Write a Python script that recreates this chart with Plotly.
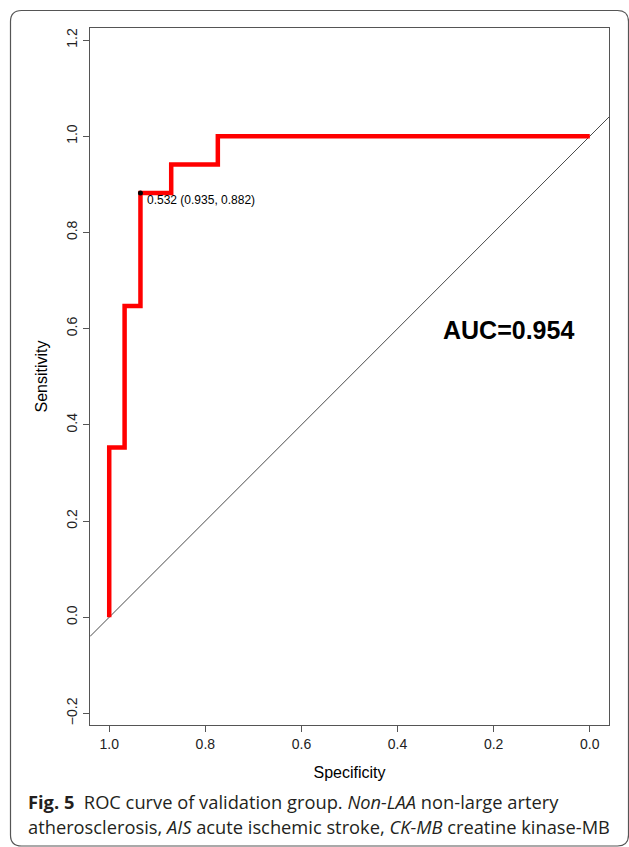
import plotly.graph_objects as go

# ROC data (specificity, sensitivity) at the step corners
specificity = [1.0, 1.0, 0.968, 0.935, 0.871, 0.774, 0.0]
sensitivity = [0.0, 0.353, 0.647, 0.882, 0.941, 1.0, 1.0]

best_threshold = 0.532
best_spec = 0.935
best_sens = 0.882
auc_value = 0.954

x_ticks = [1.0, 0.8, 0.6, 0.4, 0.2, 0.0]
y_ticks = [-0.2, 0.0, 0.2, 0.4, 0.6, 0.8, 1.0, 1.2]
x_range = [1.04, -0.04]
y_range = [-0.224, 1.225]

W, H = 629, 847
ML, MR, MT, MB = 90, 20, 28, 122
PW, PH = W - ML - MR, H - MT - MB


def px(xp):
    return (xp - ML) / PW


def py(yp):
    return (H - MB - yp) / PH


fig = go.Figure()

# chance diagonal: sensitivity = 1 - specificity across the full axis range
diag_x = list(x_range)
diag_y = [1 - v for v in diag_x]
fig.add_trace(go.Scatter(x=diag_x, y=diag_y, mode="lines",
                         line=dict(color="#4a4a4a", width=1),
                         hoverinfo="skip", showlegend=False))

fig.add_trace(go.Scatter(x=specificity, y=sensitivity, mode="lines",
                         line=dict(color="#ff0000", width=4.5, shape="hv"),
                         showlegend=False))

fig.add_trace(go.Scatter(x=[best_spec], y=[best_sens], mode="markers",
                         marker=dict(color="black", size=5),
                         showlegend=False))

fig.add_annotation(x=best_spec, y=best_sens, xref="x", yref="y",
                   text=f"{best_threshold:.3f} ({best_spec:.3f}, {best_sens:.3f})",
                   showarrow=False, xanchor="left", yanchor="middle",
                   xshift=5, yshift=-7,
                   font=dict(family="Liberation Sans", size=12, color="black"))

fig.add_annotation(x=0.17, y=0.597, xref="x", yref="y",
                   text=f"<b>AUC={auc_value:.3f}</b>", showarrow=False,
                   font=dict(family="Liberation Sans", size=25, color="black"))

axis_common = dict(showline=True, linecolor="#555555", linewidth=1, mirror=True,
                   ticks="outside", ticklen=6, tickcolor="#555555", tickwidth=1,
                   showgrid=False, zeroline=False,
                   tickfont=dict(family="Liberation Sans", size=14, color="#222222"))

fig.update_xaxes(range=x_range, tickvals=x_ticks,
                 ticktext=[f"{v:.1f}" for v in x_ticks],
                 title=dict(text="Specificity", standoff=16,
                            font=dict(family="Liberation Sans", size=16, color="black")),
                 **axis_common)
fig.update_yaxes(range=y_range, tickvals=y_ticks,
                 ticktext=[f"{v:.1f}".replace("-", "\u2212") for v in y_ticks],
                 tickangle=-90,
                 title=dict(text="Sensitivity", standoff=12,
                            font=dict(family="Liberation Sans", size=16, color="black")),
                 **axis_common)

# rounded figure frame
x0, x1, y0, y1, r = 10.5, 628.5, 10.5, 846, 11
path = (f"M {px(x0 + r)},{py(y0)} L {px(x1 - r)},{py(y0)} "
        f"Q {px(x1)},{py(y0)} {px(x1)},{py(y0 + r)} "
        f"L {px(x1)},{py(y1 - r)} Q {px(x1)},{py(y1)} {px(x1 - r)},{py(y1)} "
        f"L {px(x0 + r)},{py(y1)} Q {px(x0)},{py(y1)} {px(x0)},{py(y1 - r)} "
        f"L {px(x0)},{py(y0 + r)} Q {px(x0)},{py(y0)} {px(x0 + r)},{py(y0)} Z")
fig.add_shape(type="path", path=path, xref="paper", yref="paper",
              line=dict(color="#555555", width=1.2), layer="below")

caption_font = dict(family="Open Sans", size=18.3, color="#231f20")
fig.add_annotation(x=px(26), y=py(801), xref="paper", yref="paper",
                   text="<b>Fig. 5</b>  ROC curve of validation group. <i>Non-LAA</i> non-large artery",
                   showarrow=False, xanchor="left", yanchor="middle", font=caption_font)
fig.add_annotation(x=px(26), y=py(827), xref="paper", yref="paper",
                   text="atherosclerosis, <i>AIS</i> acute ischemic stroke, <i>CK-MB</i> creatine kinase-MB",
                   showarrow=False, xanchor="left", yanchor="middle", font=caption_font)

fig.update_layout(width=W, height=H, autosize=False,
                  margin=dict(l=ML, r=MR, t=MT, b=MB),
                  paper_bgcolor="white", plot_bgcolor="white")

fig.write_html("out.html", config={"displayModeBar": False},
               post_script="document.body.style.margin='0';")
